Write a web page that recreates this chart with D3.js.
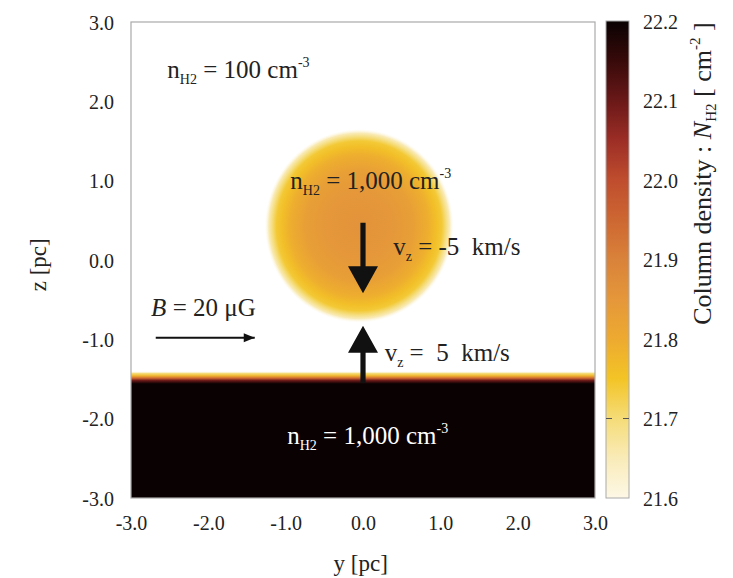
<!DOCTYPE html>
<html>
<head>
  <meta charset="UTF-8">
  <style>
    body { margin: 0; background: #fff; }
    svg text { font-family: "Liberation Serif", "Times New Roman", serif; fill: #222; }
  </style>
  <script src="https://d3js.org/d3.v7.min.js"></script>
</head>
<body>
  <svg id="chart" width="733" height="578"></svg>
  <script>
    // axis ticks (pc)
    const yTicks = [-3, -2, -1, 0, 1, 2, 3];
    const zTicks = [-3, -2, -1, 0, 1, 2, 3];
    // colour bar: log10 column density and colours
    const cbTicks = [21.6, 21.7, 21.8, 21.9, 22.0, 22.1, 22.2];
    const cbMarks = [21.7];
    const cmapValues = [21.6, 21.65, 21.7, 21.75, 21.8, 21.85, 21.9, 21.95, 22.0, 22.05, 22.1, 22.15, 22.2];
    const cmapColors = ["#fdf8e6", "#f9ebb8", "#f5dc78", "#f3c426", "#edaa30", "#e5973a", "#d9823a", "#cd6732", "#bf4d2e", "#9c2e26", "#6a1818", "#380a0a", "#0a0202"];

    // cloud: centre, radial profile of log N
    const cloudCentre = { y: -0.05, z: 0.43 };
    const cloudR = [0, 0.4, 0.7, 0.9, 1.0, 1.07, 1.12, 1.17, 1.22];
    const cloudLogN = [21.86, 21.85, 21.83, 21.79, 21.76, 21.74, 21.70, 21.65, 21.6];

    // slab below z = -1.5: log N against z
    const slabZ = [-1.40, -1.43, -1.46, -1.49, -1.52, -1.56, -3.0];
    const slabLogN = [21.6, 21.70, 21.78, 21.95, 22.1, 22.2, 22.2];

    const svg = d3.select("#chart");

    const x = d3.scaleLinear().domain([-3, 3]).range([131, 595]);
    const y = d3.scaleLinear().domain([-3, 3]).range([498, 22]);
    const cb = d3.scaleLinear().domain([21.6, 22.2]).range([498, 21]);
    const color = d3.scaleLinear().domain(cmapValues).range(cmapColors).clamp(true);

    const defs = svg.append("defs");

    // cloud gradient
    const rMax = d3.max(cloudR);
    const cg = defs.append("radialGradient").attr("id", "cloudGrad");
    cg.selectAll("stop").data(cloudR).join("stop")
      .attr("offset", d => d / rMax)
      .attr("stop-color", (d, i) => color(cloudLogN[i]))
      .attr("stop-opacity", (d, i) => i === cloudR.length - 1 ? 0 : 1);

    // slab gradient
    const sg = defs.append("linearGradient").attr("id", "slabGrad")
      .attr("gradientUnits", "userSpaceOnUse")
      .attr("x1", 0).attr("x2", 0)
      .attr("y1", y(slabZ[0])).attr("y2", y(-3));
    sg.selectAll("stop").data(slabZ).join("stop")
      .attr("offset", d => (y(d) - y(slabZ[0])) / (y(-3) - y(slabZ[0])))
      .attr("stop-color", (d, i) => color(slabLogN[i]))
      .attr("stop-opacity", (d, i) => i === 0 ? 0 : 1);

    // colour bar gradient
    const bg = defs.append("linearGradient").attr("id", "cbGrad")
      .attr("x1", 0).attr("x2", 0).attr("y1", 1).attr("y2", 0);
    bg.selectAll("stop").data(cmapValues).join("stop")
      .attr("offset", d => (d - 21.6) / 0.6)
      .attr("stop-color", (d, i) => cmapColors[i]);

    defs.append("marker").attr("id", "headSmall")
      .attr("viewBox", "0 -5 10 10").attr("refX", 10).attr("refY", 0)
      .attr("markerWidth", 6).attr("markerHeight", 5).attr("orient", "auto")
      .attr("markerUnits", "strokeWidth")
      .append("path").attr("d", "M0,-4L10,0L0,4Z").attr("fill", "#111");

    defs.append("clipPath").attr("id", "plotClip")
      .append("rect").attr("x", x(-3)).attr("y", y(3))
      .attr("width", x(3) - x(-3)).attr("height", y(-3) - y(3));

    const plot = svg.append("g").attr("clip-path", "url(#plotClip)");
    // values below the bar's range are drawn white
    plot.append("rect").attr("x", x(-3)).attr("y", y(3))
      .attr("width", x(3) - x(-3)).attr("height", y(-3) - y(3))
      .attr("fill", "#fff");

    plot.append("ellipse")
      .attr("cx", x(cloudCentre.y)).attr("cy", y(cloudCentre.z))
      .attr("rx", x(rMax) - x(0)).attr("ry", y(0) - y(rMax))
      .attr("fill", "url(#cloudGrad)");

    plot.append("rect")
      .attr("x", x(-3)).attr("y", y(slabZ[0]))
      .attr("width", x(3) - x(-3)).attr("height", y(-3) - y(slabZ[0]))
      .attr("fill", "url(#slabGrad)");

    // frame
    svg.append("rect").attr("x", x(-3)).attr("y", y(3))
      .attr("width", x(3) - x(-3)).attr("height", y(-3) - y(3))
      .attr("fill", "none").attr("stroke", "#aaa").attr("stroke-width", 1.2);

    // axes
    const fmt = d => d3.format(".1f")(d).replace("\u2212", "-");
    const xAxis = svg.append("g").attr("transform", `translate(0,${y(-3) + 11})`)
      .call(d3.axisBottom(x).tickValues(yTicks).tickSize(0).tickFormat(fmt));
    xAxis.select(".domain").remove();
    xAxis.selectAll("text").attr("font-size", 20).attr("dy", "0.9em");

    const yAxis = svg.append("g").attr("transform", `translate(${x(-3) - 14},0)`)
      .call(d3.axisLeft(y).tickValues(zTicks).tickSize(0).tickFormat(fmt));
    yAxis.select(".domain").remove();
    yAxis.selectAll("text").attr("font-size", 20).attr("dy", "0.35em");

    svg.append("text").attr("x", x(-0.03)).attr("y", 571)
      .attr("text-anchor", "middle").attr("font-size", 23).text("y [pc]");
    svg.append("text").attr("transform", `translate(46,${y(-0.06)}) rotate(-90)`)
      .attr("text-anchor", "middle").attr("font-size", 23).text("z [pc]");

    // colour bar
    const cbX = 606, cbW = 23;
    svg.append("rect").attr("x", cbX).attr("y", cb(22.2))
      .attr("width", cbW).attr("height", cb(21.6) - cb(22.2))
      .attr("fill", "url(#cbGrad)").attr("stroke", "#aaa").attr("stroke-width", 1);
    const cbAxis = svg.append("g").attr("transform", `translate(${cbX + cbW + 11},0)`)
      .call(d3.axisRight(cb).tickValues(cbTicks).tickSize(0).tickFormat(fmt));
    cbAxis.select(".domain").remove();
    cbAxis.selectAll("text").attr("font-size", 20).attr("dy", "0.35em");
    const marks = svg.append("g").selectAll("g").data(cbMarks).join("g");
    marks.append("line")
      .attr("x1", cbX).attr("x2", cbX + 6).attr("y1", d => cb(d)).attr("y2", d => cb(d))
      .attr("stroke", "#555").attr("stroke-width", 1);
    marks.append("line")
      .attr("x1", cbX + cbW - 6).attr("x2", cbX + cbW).attr("y1", d => cb(d)).attr("y2", d => cb(d))
      .attr("stroke", "#555").attr("stroke-width", 1);

    const cbl = svg.append("text")
      .attr("transform", `translate(711,${cb(22.008)}) rotate(-90)`)
      .attr("text-anchor", "middle").attr("font-size", 26);
    cbl.append("tspan").text("Column density : ");
    cbl.append("tspan").attr("font-style", "italic").text("N");
    cbl.append("tspan").attr("font-size", 15).attr("dy", 5).text("H2");
    cbl.append("tspan").attr("dy", -5).text(" [ cm");
    cbl.append("tspan").attr("font-size", 15).attr("dy", -11).text("-2");
    cbl.append("tspan").attr("dy", 11).text(" ]");

    // annotations
    function density(px, pz, val, fill) {
      const t = svg.append("text").attr("x", x(px)).attr("y", y(pz))
        .attr("font-size", 25).style("fill", fill);
      t.append("tspan").text("n");
      t.append("tspan").attr("font-size", 14).attr("dy", 6).text("H2");
      t.append("tspan").attr("dy", -6).text(" = " + val + " cm");
      t.append("tspan").attr("font-size", 14).attr("dy", -11).text("-3");
    }
    density(-2.53, 2.29, "100", "#222");
    density(-0.94, 0.90, "1,000", "#222");
    density(-0.98, -2.32, "1,000", "#fff");

    function vel(px, pz, val) {
      const t = svg.append("text").attr("x", x(px)).attr("y", y(pz)).attr("font-size", 25);
      t.append("tspan").text("v");
      t.append("tspan").attr("font-size", 14).attr("dy", 6).text("z");
      t.append("tspan").attr("dy", -6).text(" = " + val + "\u00a0 km/s");
    }
    vel(0.39, 0.06, "-5");
    vel(0.28, -1.27, "\u00a05");

    const bt = svg.append("text").attr("x", x(-2.74)).attr("y", y(-0.70)).attr("font-size", 25);
    bt.append("tspan").attr("font-style", "italic").text("B");
    bt.append("tspan").text(" = 20 \u03bcG");

    svg.append("line")
      .attr("x1", x(-2.68)).attr("x2", x(-1.40)).attr("y1", y(-0.98)).attr("y2", y(-0.98))
      .attr("stroke", "#111").attr("stroke-width", 2.2).attr("marker-end", "url(#headSmall)");

    // thick vertical arrows
    function bigArrow(px, zFrom, zTo) {
      const x0 = x(px), y0 = y(zFrom), y1 = y(zTo);
      const dir = Math.sign(y1 - y0), head = 27, hw = 15, sw = 2.6;
      const yb = y1 - dir * head;
      const p = d3.path();
      p.moveTo(x0 - sw, y0); p.lineTo(x0 - sw, yb); p.lineTo(x0 - hw, yb);
      p.lineTo(x0, y1); p.lineTo(x0 + hw, yb); p.lineTo(x0 + sw, yb);
      p.lineTo(x0 + sw, y0); p.closePath();
      svg.append("path").attr("d", p.toString()).attr("fill", "#111");
    }
    bigArrow(0, 0.47, -0.42);
    bigArrow(0, -1.55, -0.83);
  </script>
</body>
</html>
